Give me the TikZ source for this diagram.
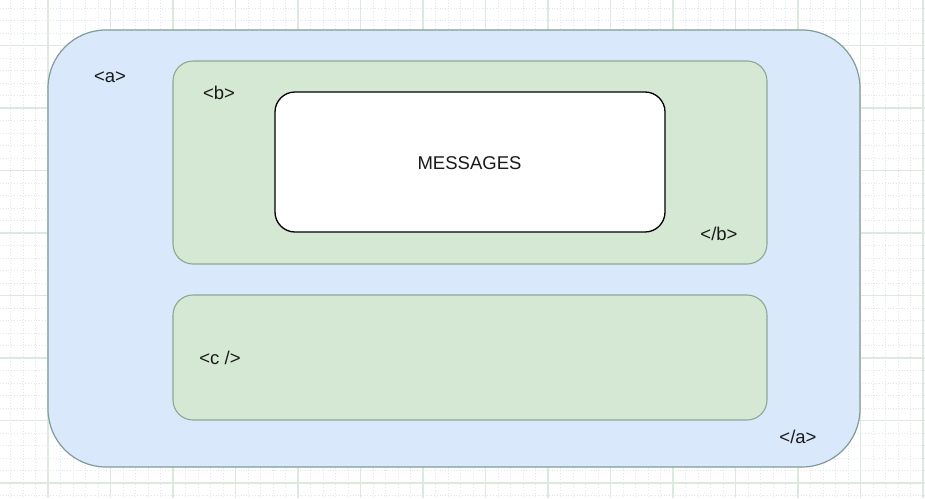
\documentclass[tikz,border=0pt]{standalone}
\usepackage{fontspec}
\setmainfont{Liberation Sans}
\definecolor{gridmajor}{HTML}{DDE8DE}
\definecolor{gridminor}{HTML}{E2E6EA}
\definecolor{bluefill}{HTML}{DAE8FC}
\definecolor{bluestroke}{HTML}{7F9C98}
\definecolor{greenfill}{HTML}{D5E8D4}
\definecolor{greenstroke}{HTML}{8CA893}
\definecolor{txt}{HTML}{1A1A1A}
\tikzset{
  outerbox/.style={draw=bluestroke, fill=bluefill, line width=1.2pt, rounded corners=58pt},
  greenbox/.style={draw=greenstroke, fill=greenfill, line width=1.1pt, rounded corners=20pt},
  msgbox/.style={draw=black, fill=white, line width=1.3pt, rounded corners=20pt},
  tag/.style={font=\fontsize{18.5pt}{20pt}\selectfont, text=txt, inner sep=0pt}
}
\begin{document}
\begin{tikzpicture}[x=1pt,y=-1pt]
\useasboundingbox (0,0) rectangle (925,498);
\fill[white] (0,0) rectangle (925,498);
% minor dotted grid
\foreach \i in {0,...,74} {
  \draw[gridminor, line width=0.8pt, dotted] ({10.5+12.5*\i},0) -- ({10.5+12.5*\i},498);
}
\foreach \j in {0,...,40} {
  \draw[gridminor, line width=0.8pt, dotted] (0,{8+12.5*\j}) -- (925,{8+12.5*\j});
}
% major grid
\foreach \i in {0,...,14} {
  \draw[gridmajor, line width=1.2pt] ({48+62.5*\i},0) -- ({48+62.5*\i},498);
}
\foreach \j in {0,...,7} {
  \draw[gridmajor, line width=1.2pt] (0,{45.5+62.5*\j}) -- (925,{45.5+62.5*\j});
}
% shapes
\draw[outerbox] (48,30) rectangle (860,467);
\draw[greenbox] (173,61) rectangle (767,264);
\draw[greenbox] (173,295) rectangle (767,420);
\node[msgbox, minimum width=390pt, minimum height=140pt, inner sep=0pt] (msg) at (470,162) {};
\node[tag] (msgtxt) at (469.5,163.5) {MESSAGES};
% labels
\node[tag] (aopen) at (110,77) {<a>};
\node[tag] (bopen) at (219,93) {<b>};
\node[tag] (bclose) at (719,234) {</b>};
\node[tag] (cself) at (220,358) {<c />};
\node[tag] (aclose) at (798,437) {</a>};
\end{tikzpicture}
\end{document}
